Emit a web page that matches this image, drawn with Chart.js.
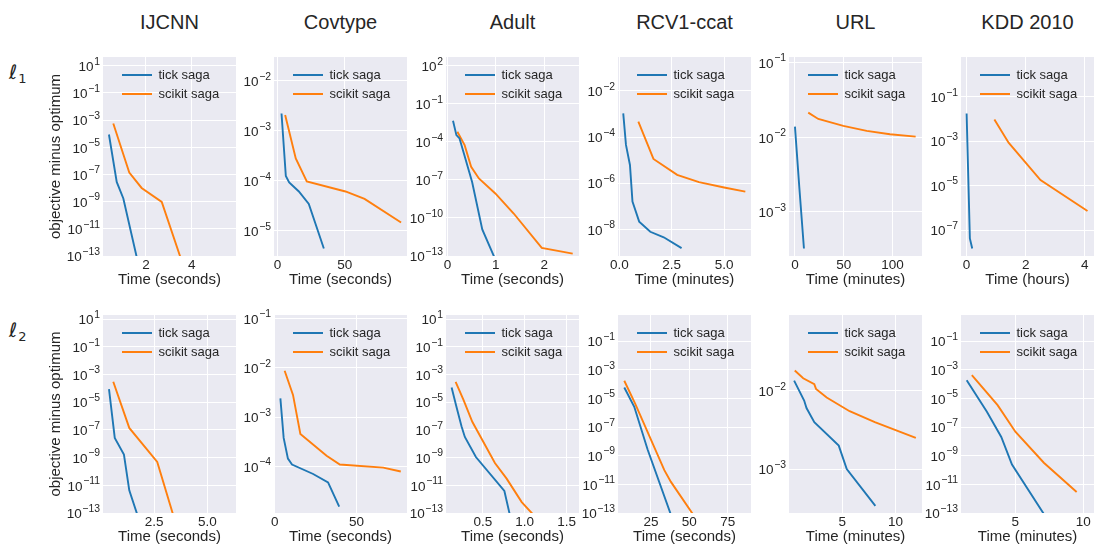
<!DOCTYPE html>
<html>
<head>
<meta charset="utf-8">
<title>SAGA convergence: tick vs scikit-learn</title>
<script src="https://cdn.jsdelivr.net/npm/chart.js@4.4.1/dist/chart.umd.min.js"></script>
<style>
  html, body { margin: 0; padding: 0; background: #ffffff; overflow: hidden; }
  #fig { position: relative; width: 1094px; height: 548px; overflow: hidden;
         font-family: 'Liberation Sans', Arial, sans-serif; color: #262626; }
  .panel { position: absolute; }
  .col-title { position: absolute; top: 12px; height: 20px; font-size: 20px; line-height: 20px;
               text-align: center; white-space: nowrap; }
  .row-label { position: absolute; left: 9px; font-family: 'DejaVu Sans', sans-serif; font-style: italic;
               font-size: 20px; line-height: 20px; white-space: nowrap; }
  .row-label span { font-size: 13px; font-style: normal; position: relative; top: 4px; margin-left: 1px; }
</style>
</head>
<body>
<div id="fig"></div>
<script>
// ---------- labels ----------
const datasetNames = ['IJCNN', 'Covtype', 'Adult', 'RCV1-ccat', 'URL', 'KDD 2010'];
const penaltyIndices = ['1', '2'];
const solverNames = ['tick saga', 'scikit saga'];
const l1TimeUnits = ['seconds', 'seconds', 'seconds', 'minutes', 'minutes', 'hours'];
const l2TimeUnits = ['seconds', 'seconds', 'seconds', 'seconds', 'minutes', 'minutes'];

// ---------- time axis ticks ----------
const l1TimeTicks = [[2, 4], [0, 50], [0, 1, 2], [0, 2.5, 5], [0, 50, 100], [0, 2, 4]];
const l1TimeTickLabels = [['2', '4'], ['0', '50'], ['0', '1', '2'], ['0.0', '2.5', '5.0'], ['0', '50', '100'], ['0', '2', '4']];
const l2TimeTicks = [[2.5, 5], [0, 50], [0.5, 1, 1.5], [25, 50, 75], [5, 10], [5, 10]];
const l2TimeTickLabels = [['2.5', '5.0'], ['0', '50'], ['0.5', '1.0', '1.5'], ['25', '50', '75'], ['5', '10'], ['5', '10']];

// ---------- gap axis ticks (powers of ten) ----------
const l1GapExponents = [[1, -1, -3, -5, -7, -9, -11, -13], [-2, -3, -4, -5], [2, -1, -4, -7, -10, -13],
                        [-2, -4, -6, -8], [-1, -2, -3], [-1, -3, -5, -7]];
const l2GapExponents = [[1, -1, -3, -5, -7, -9, -11, -13], [-1, -2, -3, -4], [1, -1, -3, -5, -7, -9, -11, -13],
                        [-1, -3, -5, -7, -9, -11, -13], [-2, -3], [-1, -3, -5, -7, -9, -11, -13]];

// ---------- axis limits ----------
const l1TimeLimits = [[0.12, 5.94], [-2.7, 96.3], [-0.03, 2.72], [-0.06, 6.28], [-6.1, 130.1], [-0.19, 4.31]];
const l2TimeLimits = [[0.109, 6.34], [-0.4, 80.8], [0.06, 1.648], [3.5, 90.2], [0.02, 12.48], [0.99, 10.8]];
const l1GapLimits = [[1e-13, 44], [3.16e-6, 3.02e-2], [1e-13, 490], [6.9e-10, 0.298], [2.57e-4, 0.119], [6.76e-9, 6.17]];
const l2GapLimits = [[1e-13, 19.5], [1.15e-5, 0.117], [1e-13, 19.5], [1e-13, 6.6], [2.75e-4, 9.33e-2], [1e-13, 6.6]];

// ---------- l1-penalised runs: elapsed time, objective minus optimum ----------
const ijcnnL1TickTime = [0.38, 0.72, 1.01, 1.72];
const ijcnnL1TickGap = [8.71e-5, 2.82e-8, 1.70e-9, 1.0e-14];
const ijcnnL1ScikitTime = [0.57, 1.27, 1.81, 2.69, 3.70];
const ijcnnL1ScikitGap = [5.62e-4, 1.38e-7, 1.02e-8, 9.55e-10, 8.9e-15];

const covtypeL1TickTime = [2.9, 6.1, 8.6, 15.8, 23.2, 34.4];
const covtypeL1TickGap = [2.24e-3, 1.26e-4, 9.33e-5, 6.17e-5, 3.47e-5, 4.47e-6];
const covtypeL1ScikitTime = [5.6, 13.5, 21.7, 50.5, 64.7, 91.9];
const covtypeL1ScikitGap = [2.09e-3, 2.82e-4, 9.77e-5, 6.17e-5, 4.37e-5, 1.48e-5];

const adultL1TickTime = [0.115, 0.185, 0.25, 0.34, 0.51, 0.72, 1.05];
const adultL1TickGap = [4.57e-3, 3.39e-4, 1.86e-4, 1.23e-5, 6.92e-8, 1.23e-11, 1.58e-14];
const adultL1ScikitTime = [0.205, 0.355, 0.49, 0.65, 0.99, 1.37, 1.95, 2.59];
const adultL1ScikitGap = [6.17e-4, 5.50e-5, 1.07e-6, 1.29e-7, 8.51e-9, 2.24e-10, 4.37e-13, 1.55e-13];

const rcv1L1TickTime = [0.19, 0.32, 0.51, 0.63, 0.95, 1.48, 2.12, 2.97];
const rcv1L1TickGap = [1.07e-3, 4.57e-5, 6.17e-6, 1.58e-7, 2.14e-8, 7.76e-9, 4.47e-9, 1.51e-9];
const rcv1L1ScikitTime = [0.91, 1.63, 2.76, 3.80, 5.0, 6.01];
const rcv1L1ScikitGap = [4.68e-4, 1.12e-5, 2.29e-6, 1.10e-6, 6.46e-7, 4.27e-7];

const urlL1TickTime = [0, 4.4, 9.2];
const urlL1TickGap = [1.39e-2, 2.19e-3, 3.24e-4];
const urlL1ScikitTime = [13.6, 23.9, 49.5, 73.5, 97.3, 123.6];
const urlL1ScikitGap = [2.14e-2, 1.76e-2, 1.42e-2, 1.22e-2, 1.10e-2, 1.02e-2];

const kddL1TickTime = [0, 0.11, 0.19];
const kddL1TickGap = [1.78e-2, 4.17e-8, 1.48e-8];
const kddL1ScikitTime = [0.94, 1.42, 2.5, 4.09];
const kddL1ScikitGap = [9.55e-3, 8.51e-4, 1.78e-5, 7.24e-7];

// ---------- l2-penalised runs ----------
const ijcnnL2TickTime = [0.39, 0.66, 1.09, 1.34, 1.9];
const ijcnnL2TickGap = [8.71e-5, 2.63e-8, 1.66e-9, 4.37e-12, 1.05e-14];
const ijcnnL2ScikitTime = [0.59, 1.34, 2.65, 3.6];
const ijcnnL2ScikitGap = [2.95e-4, 1.38e-7, 4.79e-10, 6.6e-15];

const covtypeL2TickTime = [3.5, 5.5, 8.1, 10.6, 23.5, 32.6, 39.4];
const covtypeL2TickGap = [2.40e-3, 3.80e-4, 1.45e-4, 1.10e-4, 7.08e-5, 4.79e-5, 1.55e-5];
const covtypeL2ScikitTime = [6.1, 11.2, 15.7, 31.7, 39.8, 66.3, 77.0];
const covtypeL2ScikitGap = [8.71e-3, 2.82e-3, 4.57e-4, 1.66e-4, 1.10e-4, 9.55e-5, 7.94e-5];

const adultL2TickTime = [0.127, 0.18, 0.245, 0.285, 0.417, 0.757, 0.85];
const adultL2TickGap = [1.15e-4, 6.03e-6, 1.82e-7, 3.09e-8, 1.10e-9, 3.89e-12, 1.35e-14];
const adultL2ScikitTime = [0.175, 0.27, 0.374, 0.644, 0.784, 0.964, 1.2];
const adultL2ScikitGap = [2.95e-4, 1.38e-5, 3.80e-7, 4.07e-10, 3.02e-11, 6.17e-13, 1.70e-14];

const rcv1L2TickTime = [7.6, 14.1, 22.8, 40];
const rcv1L2TickGap = [5.75e-5, 2.57e-6, 2.69e-9, 1.9e-14];
const rcv1L2ScikitTime = [7.6, 14.6, 33.7, 38.0, 56];
const rcv1L2ScikitGap = [1.70e-4, 4.47e-6, 9.77e-11, 1.48e-11, 2.19e-14];

const urlL2TickTime = [0.5, 1.44, 1.66, 2.39, 4.68, 5.43, 8.11];
const urlL2TickGap = [1.35e-2, 7.52e-3, 6.03e-3, 3.98e-3, 2.0e-3, 1.0e-3, 3.39e-4];
const urlL2ScikitTime = [0.56, 1.35, 2.39, 2.55, 3.55, 5.7, 8.06, 11.9];
const urlL2ScikitGap = [1.82e-2, 1.45e-2, 1.22e-2, 1.06e-2, 8.22e-3, 5.50e-3, 3.98e-3, 2.51e-3];

const kddL2TickTime = [1.41, 2.90, 3.96, 4.75, 7.6];
const kddL2TickGap = [1.86e-4, 1.15e-6, 2.04e-8, 2.40e-10, 1.58e-14];
const kddL2ScikitTime = [1.79, 3.69, 5.0, 7.1, 9.52];
const kddL2ScikitGap = [4.17e-4, 3.39e-6, 4.68e-8, 3.24e-10, 2.95e-12];

// ---------- grouping: [tickTime, tickGap, scikitTime, scikitGap] per dataset ----------
const l1Runs = [
  [ijcnnL1TickTime, ijcnnL1TickGap, ijcnnL1ScikitTime, ijcnnL1ScikitGap],
  [covtypeL1TickTime, covtypeL1TickGap, covtypeL1ScikitTime, covtypeL1ScikitGap],
  [adultL1TickTime, adultL1TickGap, adultL1ScikitTime, adultL1ScikitGap],
  [rcv1L1TickTime, rcv1L1TickGap, rcv1L1ScikitTime, rcv1L1ScikitGap],
  [urlL1TickTime, urlL1TickGap, urlL1ScikitTime, urlL1ScikitGap],
  [kddL1TickTime, kddL1TickGap, kddL1ScikitTime, kddL1ScikitGap]
];
const l2Runs = [
  [ijcnnL2TickTime, ijcnnL2TickGap, ijcnnL2ScikitTime, ijcnnL2ScikitGap],
  [covtypeL2TickTime, covtypeL2TickGap, covtypeL2ScikitTime, covtypeL2ScikitGap],
  [adultL2TickTime, adultL2TickGap, adultL2ScikitTime, adultL2ScikitGap],
  [rcv1L2TickTime, rcv1L2TickGap, rcv1L2ScikitTime, rcv1L2ScikitGap],
  [urlL2TickTime, urlL2TickGap, urlL2ScikitTime, urlL2ScikitGap],
  [kddL2TickTime, kddL2TickGap, kddL2ScikitTime, kddL2ScikitGap]
];

const rows = [
  { runs: l1Runs, units: l1TimeUnits, xTicks: l1TimeTicks, xLabels: l1TimeTickLabels, yExps: l1GapExponents, xLim: l1TimeLimits, yLim: l1GapLimits },
  { runs: l2Runs, units: l2TimeUnits, xTicks: l2TimeTicks, xLabels: l2TimeTickLabels, yExps: l2GapExponents, xLim: l2TimeLimits, yLim: l2GapLimits }
];

// ---------- figure geometry ----------
const plotLefts = [103, 274, 446, 618, 789, 961];
const plotWidth = 133;
const rowTops = [57, 315];
const plotHeights = [199, 198];
const solverColors = ['#1f77b4', '#ff7f0e'];
const textColor = '#262626';
const fontStack = "'Liberation Sans', Arial, sans-serif";

Chart.defaults.font.family = fontStack;
Chart.defaults.color = textColor;

// grey plotting background behind grid and lines
const panelBackground = {
  id: 'panelBackground',
  beforeDraw(chart) {
    const a = chart.chartArea, ctx = chart.ctx;
    ctx.save();
    ctx.fillStyle = '#EAEAF2';
    ctx.fillRect(a.left, a.top, a.right - a.left, a.bottom - a.top);
    ctx.restore();
  }
};

// keep the legend inside the upper-left of the plotting area
const legendInset = {
  id: 'legendInset',
  afterLayout(chart) {
    const lg = chart.legend, a = chart.chartArea;
    if (!lg) return;
    lg.left = a.left + 13;
    lg.top = a.top + 5.5;
    lg.right = a.right;
    lg.bottom = a.bottom;
  }
};

// log-axis tick labels written as 10 with a raised exponent
const powerTickLabels = {
  id: 'powerTickLabels',
  afterDraw(chart, args, opts) {
    const ys = chart.scales.y, ctx = chart.ctx;
    const exps = opts.exponents || [];
    const baseFont = '13.5px ' + fontStack;
    const supFont = '10.4px ' + fontStack;
    ctx.save();
    ctx.fillStyle = textColor;
    ctx.textAlign = 'left';
    ctx.textBaseline = 'alphabetic';
    ys.ticks.forEach((t, i) => {
      if (exps[i] === undefined) return;
      const y = ys.getPixelForValue(t.value);
      const exp = String(exps[i]).replace('-', '\u2212');
      ctx.font = supFont;
      const we = ctx.measureText(exp).width;
      ctx.font = baseFont;
      const wb = ctx.measureText('10').width;
      const x0 = ys.right - 3 - we - wb - 0.6;
      ctx.fillText('10', x0, y + 5.3);
      ctx.font = supFont;
      ctx.fillText(exp, x0 + wb + 0.6, y - 1.2);
    });
    ctx.restore();
  }
};

const fig = document.getElementById('fig');

datasetNames.forEach((name, col) => {
  const t = document.createElement('div');
  t.className = 'col-title';
  t.style.left = plotLefts[col] + 'px';
  t.style.width = plotWidth + 'px';
  t.textContent = name;
  fig.appendChild(t);
});

penaltyIndices.forEach((idx, row) => {
  const r = document.createElement('div');
  r.className = 'row-label';
  r.style.top = (rowTops[row] + 5) + 'px';
  r.innerHTML = '\u2113<span>' + idx + '</span>';
  fig.appendChild(r);
});

function makePanel(row, col) {
  const spec = rows[row];
  const L = plotLefts[col], T = rowTops[row], W = plotWidth, H = plotHeights[row];
  const yW = col === 0 ? 56 : 50, xH = 33;
  const pad = { left: 4, top: 12, right: 16, bottom: 4 };

  const canvas = document.createElement('canvas');
  canvas.className = 'panel';
  canvas.width = pad.left + yW + W + pad.right;
  canvas.height = pad.top + H + xH + pad.bottom;
  canvas.style.width = canvas.width + 'px';
  canvas.style.height = canvas.height + 'px';
  canvas.style.left = (L - yW - pad.left) + 'px';
  canvas.style.top = (T - pad.top) + 'px';
  fig.appendChild(canvas);

  const [tx, ty, sx, sy] = spec.runs[col];
  const series = [[tx, ty], [sx, sy]];
  const datasets = series.map(([xs, ys], k) => ({
    label: solverNames[k],
    data: xs.map((x, i) => ({ x: x, y: ys[i] })),
    borderColor: solverColors[k],
    backgroundColor: solverColors[k],
    pointBorderColor: solverColors[k],
    borderWidth: 1.9,
    pointBorderWidth: 1.9,
    pointRadius: 0,
    pointHoverRadius: 0,
    tension: 0,
    fill: false,
    clip: 0
  }));

  const xTicks = spec.xTicks[col], xLabels = spec.xLabels[col];
  const yExps = spec.yExps[col];

  new Chart(canvas, {
    type: 'line',
    data: { datasets },
    plugins: [panelBackground, legendInset, powerTickLabels],
    options: {
      responsive: false,
      animation: false,
      devicePixelRatio: 1,
      events: [],
      layout: { padding: pad },
      plugins: {
        tooltip: { enabled: false },
        powerTickLabels: { exponents: yExps },
        legend: {
          position: 'chartArea',
          align: 'start',
          labels: {
            usePointStyle: true,
            pointStyle: 'line',
            pointStyleWidth: 30,
            boxHeight: 13,
            padding: 6,
            color: textColor,
            font: { size: 13 }
          }
        }
      },
      scales: {
        x: {
          type: 'linear',
          min: spec.xLim[col][0],
          max: spec.xLim[col][1],
          afterBuildTicks: s => { s.ticks = xTicks.map(v => ({ value: v })); },
          afterFit: s => { s.height = xH; },
          ticks: {
            callback: (v, i) => xLabels[i],
            autoSkip: false, maxRotation: 0, padding: 3,
            color: textColor, font: { size: 13.5, lineHeight: 1 }
          },
          grid: { color: '#ffffff', lineWidth: 1, drawTicks: false },
          border: { display: false },
          title: { display: true, text: 'Time (' + spec.units[col] + ')', color: textColor,
                   font: { size: 15 }, padding: 0 }
        },
        y: {
          type: 'logarithmic',
          min: spec.yLim[col][0],
          max: spec.yLim[col][1],
          afterBuildTicks: s => { s.ticks = yExps.map(e => ({ value: Math.pow(10, e) })); },
          afterFit: s => { s.width = yW; },
          ticks: { display: false },
          grid: { color: '#ffffff', lineWidth: 1, drawTicks: false },
          border: { display: false },
          title: { display: col === 0, text: 'objective minus optimum', color: textColor,
                   font: { size: 15 }, padding: 0 }
        }
      }
    }
  });
}

for (let row = 0; row < 2; row++) {
  for (let col = 0; col < 6; col++) makePanel(row, col);
}
</script>
</body>
</html>
